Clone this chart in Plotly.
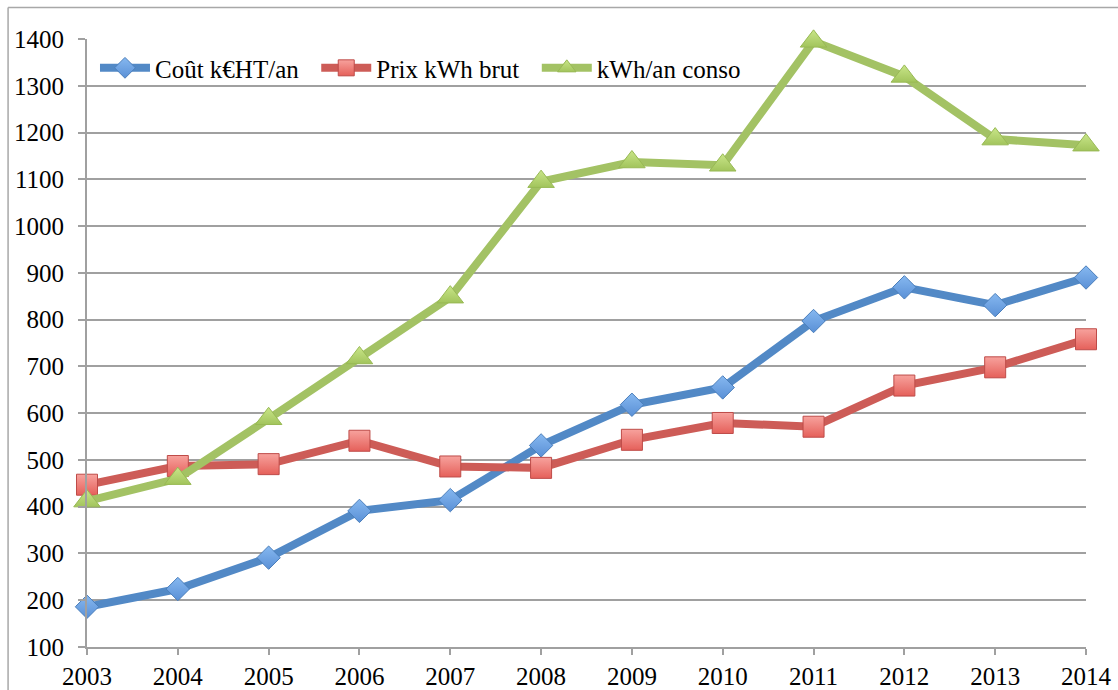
import plotly.graph_objects as go

years = [2003, 2004, 2005, 2006, 2007, 2008, 2009, 2010, 2011, 2012, 2013, 2014]
cout = [186, 224, 291, 391, 414, 531, 618, 655, 797, 869, 831, 890]
prix = [447, 487, 491, 541, 486, 483, 543, 579, 571, 659, 698, 758]
conso = [412, 460, 588, 718, 848, 1095, 1137, 1130, 1395, 1320, 1186, 1173]
y_ticks = [100, 200, 300, 400, 500, 600, 700, 800, 900, 1000, 1100, 1200, 1300, 1400]
series_names = ["Coût k€HT/an", "Prix kWh brut", "kWh/an conso"]

FONT = "Liberation Serif, DejaVu Serif, serif"
PAD = "\u00a0\u00a0"

fig = go.Figure()
fig.add_trace(go.Scatter(
    x=years, y=cout, name=series_names[0] + PAD, mode="lines+markers",
    line=dict(color="#5289C6", width=8),
    marker=dict(symbol="diamond", size=18, color="#86B8F0",
                gradient=dict(type="vertical", color="#5A90D6"),
                line=dict(color="#4A7EBB", width=1)),
    cliponaxis=False,
))
fig.add_trace(go.Scatter(
    x=years, y=prix, name=series_names[1] + PAD, mode="lines+markers",
    line=dict(color="#CD5C57", width=8),
    marker=dict(symbol="square", size=21, color="#F7A29D",
                gradient=dict(type="vertical", color="#E5605A"),
                line=dict(color="#BE4B48", width=1)),
    cliponaxis=False,
))
fig.add_trace(go.Scatter(
    x=years, y=conso, name=series_names[2], mode="lines+markers",
    line=dict(color="#A3C264", width=8),
    marker=dict(symbol="triangle-up", size=23, color="#C9E689",
                gradient=dict(type="vertical", color="#A2C45C"),
                line=dict(color="#98B954", width=1)),
    cliponaxis=False,
))

fig.update_layout(
    width=1118, height=690,
    margin=dict(l=87, r=32, t=39, b=43, autoexpand=False),
    paper_bgcolor="white", plot_bgcolor="white",
    font=dict(family=FONT, size=25, color="black"),
    showlegend=True,
    legend=dict(orientation="h", x=0.008, y=0.99, xanchor="left", yanchor="top",
                bgcolor="rgba(0,0,0,0)", font=dict(family=FONT, size=25),
                itemwidth=50, tracegroupgap=0),
    xaxis=dict(
        range=[2003, 2014], tickmode="array", tickvals=years,
        ticktext=[str(y) for y in years], automargin=False,
        showgrid=False, zeroline=False,
        showline=True, linecolor="#A0A0A0", linewidth=2,
        ticks="outside", ticklen=6, tickcolor="#A0A0A0", tickwidth=2,
        tickfont=dict(family=FONT, size=25),
    ),
    yaxis=dict(
        range=[100, 1400], tickmode="array", tickvals=y_ticks, automargin=False,
        showgrid=True, gridcolor="#A0A0A0", gridwidth=1.5, zeroline=False,
        showline=True, linecolor="#A0A0A0", linewidth=2,
        ticks="outside", ticklen=7, tickcolor="#A0A0A0", tickwidth=2,
        ticklabelstandoff=9,
        tickfont=dict(family=FONT, size=25),
    ),
    shapes=[
        dict(type="line", xref="paper", yref="paper", x0=-0.079, x1=1.04,
             y0=1.052, y1=1.052, line=dict(color="#A8A8A8", width=1.5)),
        dict(type="line", xref="paper", yref="paper", x0=-0.079, x1=-0.079,
             y0=1.052, y1=-0.08, line=dict(color="#A8A8A8", width=1.5)),
    ],
)

fig.write_html("out.html")
